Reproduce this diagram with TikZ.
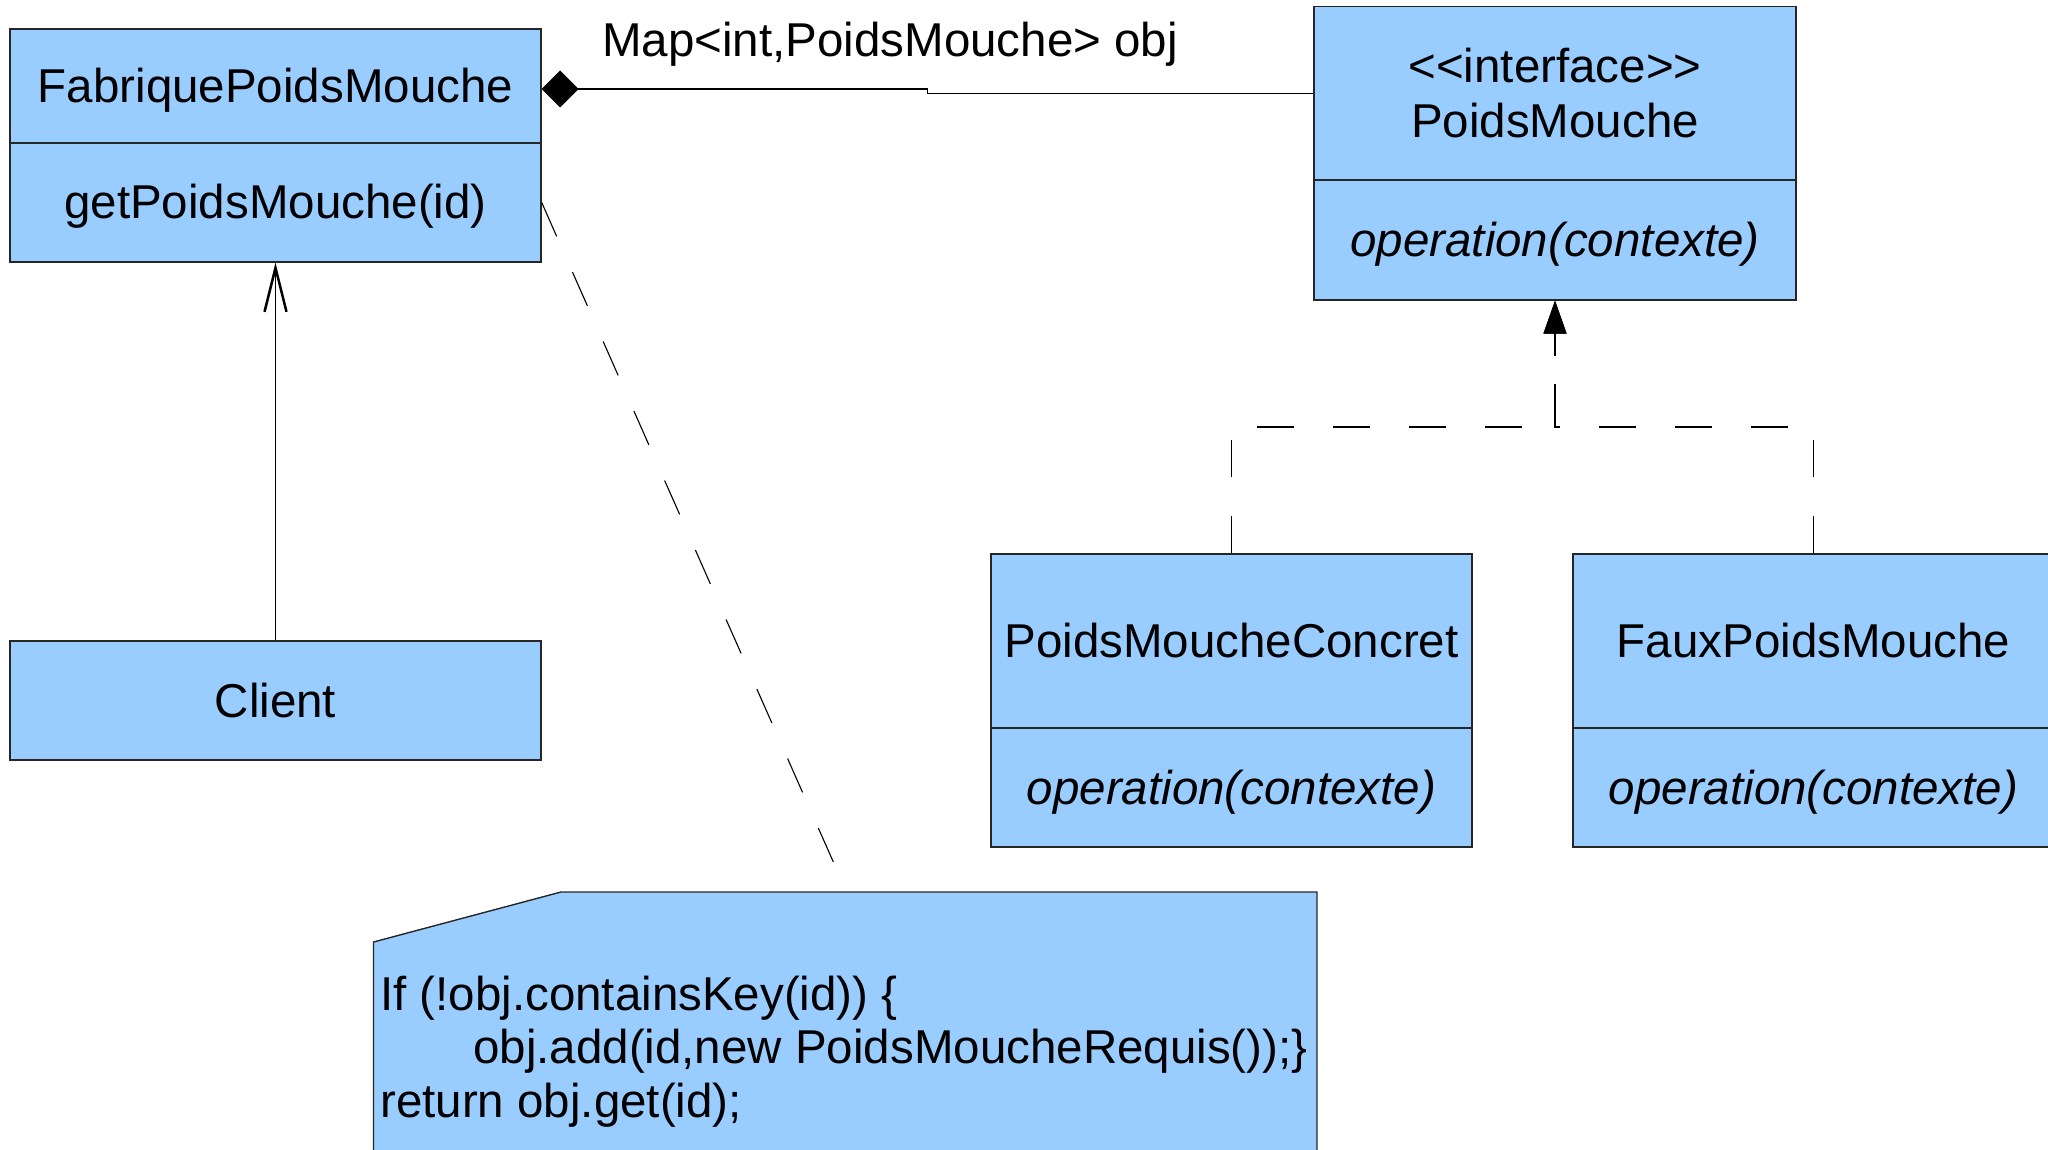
\documentclass[tikz,border=0pt]{standalone}
\usepackage{fontspec}
\setmainfont{Liberation Sans}
\usetikzlibrary{arrows.meta,calc}
\definecolor{umlfill}{HTML}{99CCFF}
\begin{document}
\begin{tikzpicture}[x=1pt,y=-1pt,
  every node/.style={font=\fontsize{47.5}{55}\selectfont},
  clsbox/.style={draw=black!85, line width=1.4pt, fill=umlfill, inner sep=0pt, minimum width=#1},
  cls/.style={clsbox=#1, text height=43pt, text depth=10pt},
  op/.style={font=\fontsize{47.5}{55}\selectfont\itshape},
  conn/.style={draw=black, line width=1.1pt},
  dashline/.style={conn, dash pattern=on 37pt off 39pt},
  realize/.style={dashline, -{Triangle[length=33pt,width=23pt]}},
  notebox/.style={draw=black!85, line width=1.4pt, fill=umlfill}
]
\useasboundingbox (0,0) rectangle (2048,1150);
\clip (0,0) rectangle (2048,1150);

% factory class
\node[cls=531pt, minimum height=114pt] (fab) at (275.5,86) {FabriquePoidsMouche};
\node[cls=531pt, minimum height=119pt] (fabop) at (275.5,202.5) {getPoidsMouche(id)};

% client
\node[cls=531pt, minimum height=119pt] (client) at (275.5,700.5) {Client};

% interface
\node[clsbox=482pt, minimum height=173.5pt, align=center] (iface) at (1555,93.25) {<{}<interface>{}>\\PoidsMouche};
\node[cls=482pt, minimum height=120pt, op] (ifaceop) at (1555,240) {operation(contexte)};

% concrete implementations
\node[cls=481pt, minimum height=174pt] (conc) at (1231.5,641) {PoidsMoucheConcret};
\node[cls=481pt, minimum height=119pt, op] (concop) at (1231.5,787.5) {operation(contexte)};
\node[cls=481pt, minimum height=174pt] (faux) at (1813.5,641) {FauxPoidsMouche};
\node[cls=481pt, minimum height=119pt, op] (fauxop) at (1813.5,787.5) {operation(contexte)};

% composition: factory holds the map of flyweights
\draw[conn, {Diamond[length=37pt,width=37pt]}-] ($(fab.east)+(0,3)$) -- ++(386,0) |- (iface.west);
\node[anchor=base west, inner sep=0pt] (maplbl) at (602,57) {Map<int,PoidsMouche> obj};

% client uses the factory
\draw[conn, -{Straight Barb[length=44pt,width=22pt,line width=2.5pt]}] (client.north) -- (fabop.south);

% realization of the interface
\coordinate (join) at (1555,427);
\draw[realize] (conc.north) |- (join) -- (ifaceop.south);
\draw[realize] (faux.north) |- (join) -- (ifaceop.south);

% note attached to getPoidsMouche
\draw[notebox] (373.5,1165) -- (373.5,942) -- (561,892) -- (1317,892) -- (1317,1165) -- cycle;
\node[anchor=base west, align=left, inner sep=0pt, font=\fontsize{47.5}{53.5}\selectfont] (note) at (380,1117)
  {If (!obj.containsKey(id)) \{\\\hspace*{93pt}obj.add(id,new PoidsMoucheRequis());\}\\return obj.get(id);};
\coordinate (noteTip) at (836,868);
\draw[dashline] (fabop.east) -- (noteTip);
\end{tikzpicture}
\end{document}
